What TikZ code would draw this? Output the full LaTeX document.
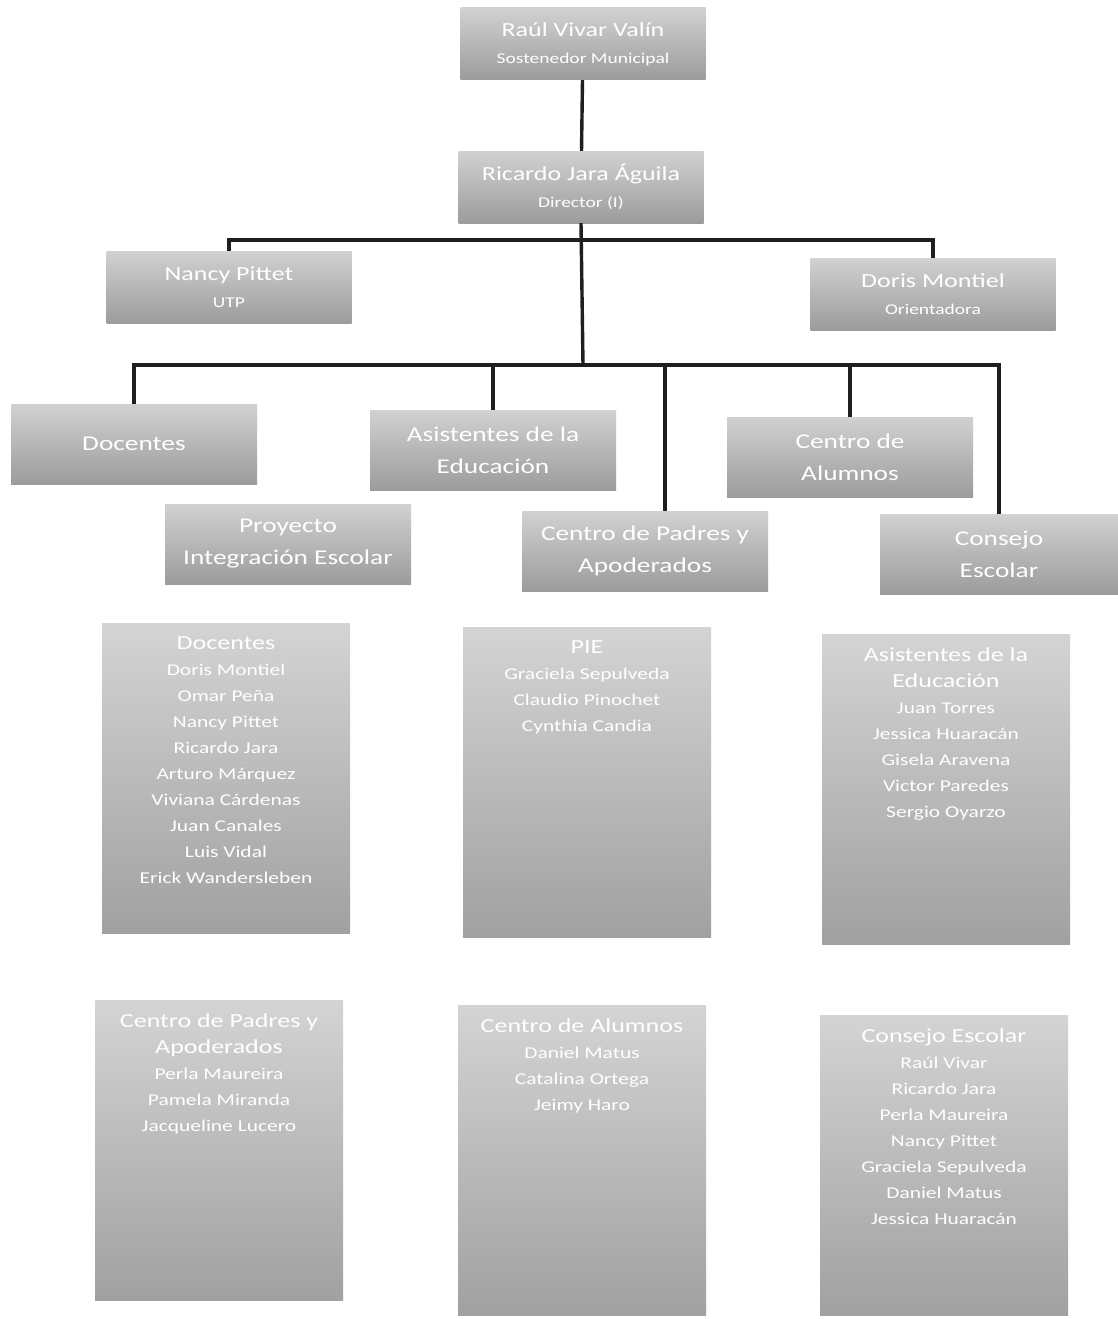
\documentclass[tikz,border=0pt]{standalone}
\usepackage{fontspec}
\usepackage{tikz}
\usetikzlibrary{positioning}
\newfontfamily\orgfont[FakeStretch=1.3]{Carlito}
\newcommand\cargo[2]{{\fontsize{20}{27}\selectfont #1}\\{\fontsize{15}{27}\selectfont #2}}
\newcommand\listhead[1]{{\fontsize{20}{27}\selectfont #1}}

\begin{document}
\begin{tikzpicture}[x=1pt, y=-1pt,
	orgbox/.style={shape=rectangle, top color=gray!36, bottom color=gray!78, text=white, align=center, inner sep=0pt, font=\orgfont},
	headbox/.style={orgbox, minimum width=245pt, minimum height=72pt, font={\orgfont\fontsize{15}{27}\selectfont}},
	unitbox/.style={orgbox, minimum width=246pt, minimum height=80pt, font={\orgfont\fontsize{21}{32}\selectfont}},
	listbox/.style={orgbox, top color=gray!34, bottom color=gray!74, minimum width=248pt, minimum height=310pt},
	listtext/.style={text=white, align=center, inner sep=0pt, font={\orgfont\fontsize{16.5}{26}\selectfont}},
	orgline/.style={draw=black!88, line width=3.4pt}]
	\path[use as bounding box, fill=white] (0,0) rectangle (1118,1319);
	% direccion
	\node[headbox] (raul)     at (583,44)  {\cargo{Raúl Vivar Valín}{Sostenedor Municipal}};
	\node[headbox] (ricardo)  at (581,187) {\cargo{Ricardo Jara Águila}{Director (I)}};
	\node[headbox] (nancy)    at (229,287) {\cargo{Nancy Pittet}{UTP}};
	\node[headbox] (doris)    at (933,294) {\cargo{Doris Montiel}{Orientadora}};
	% estamentos
	\node[unitbox] (docentes) at (134,444) {Docentes};
	\node[unitbox] (asist)    at (493,450) {Asistentes de la\\Educación};
	\node[unitbox] (alumnos)  at (850,457) {Centro de\\Alumnos};
	\node[unitbox] (proyecto) at (288,544) {Proyecto\\Integración Escolar};
	\node[unitbox] (padres)   at (645,551) {Centro de Padres y\\Apoderados};
	\node[unitbox, minimum width=238pt] (consejo) at (999,554) {Consejo\\Escolar};
	% listas
	\node[listbox] (docbox) at (226,778)  {};
	\node[listbox] (piebox) at (587,782)  {};
	\node[listbox] (asibox) at (946,789)  {};
	\node[listbox, minimum height=300pt] (padbox) at (219,1150) {};
	\node[listbox] (alubox) at (582,1160) {};
	\node[listbox, minimum height=300pt] (conbox) at (944,1165) {};
	\node[listtext, below=14pt of docbox.north] (doclist) {\listhead{Docentes}\\Doris Montiel\\Omar Peña\\Nancy Pittet\\Ricardo Jara\\Arturo Márquez\\Viviana Cárdenas\\Juan Canales\\Luis Vidal\\Erick Wandersleben};
	\node[listtext, below=14pt of piebox.north] (pielist) {\listhead{PIE}\\Graciela Sepulveda\\Claudio Pinochet\\Cynthia Candia};
	\node[listtext, below=14pt of asibox.north] (asilist) {\listhead{Asistentes de la}\\\listhead{Educación}\\Juan Torres\\Jessica Huaracán\\Gisela Aravena\\Victor Paredes\\Sergio Oyarzo};
	\node[listtext, below=14pt of padbox.north] (padlist) {\listhead{Centro de Padres y}\\\listhead{Apoderados}\\Perla Maureira\\Pamela Miranda\\Jacqueline Lucero};
	\node[listtext, below=14pt of alubox.north] (alulist) {\listhead{Centro de Alumnos}\\Daniel Matus\\Catalina Ortega\\Jeimy Haro};
	\node[listtext, below=14pt of conbox.north] (conlist) {\listhead{Consejo Escolar}\\Raúl Vivar\\Ricardo Jara\\Perla Maureira\\Nancy Pittet\\Graciela Sepulveda\\Daniel Matus\\Jessica Huaracán};
	\coordinate (fork1) at (583,240);
	\coordinate (fork2) at (583,365);
    \path[orgline] (raul) edge (ricardo);
    \draw[orgline] (ricardo.south) -- (fork2);
    \draw[orgline] (nancy.north) |- (fork1) -| (doris.north);
    \draw[orgline] (docentes.north) |- (fork2) -| (consejo.north);
    \draw[orgline] (fork2) -| (asist.north);
    \draw[orgline] (fork2) -| ([xshift=20pt]padres.north);
    \draw[orgline] (fork2) -| (alumnos.north);
\end{tikzpicture}
\end{document}
